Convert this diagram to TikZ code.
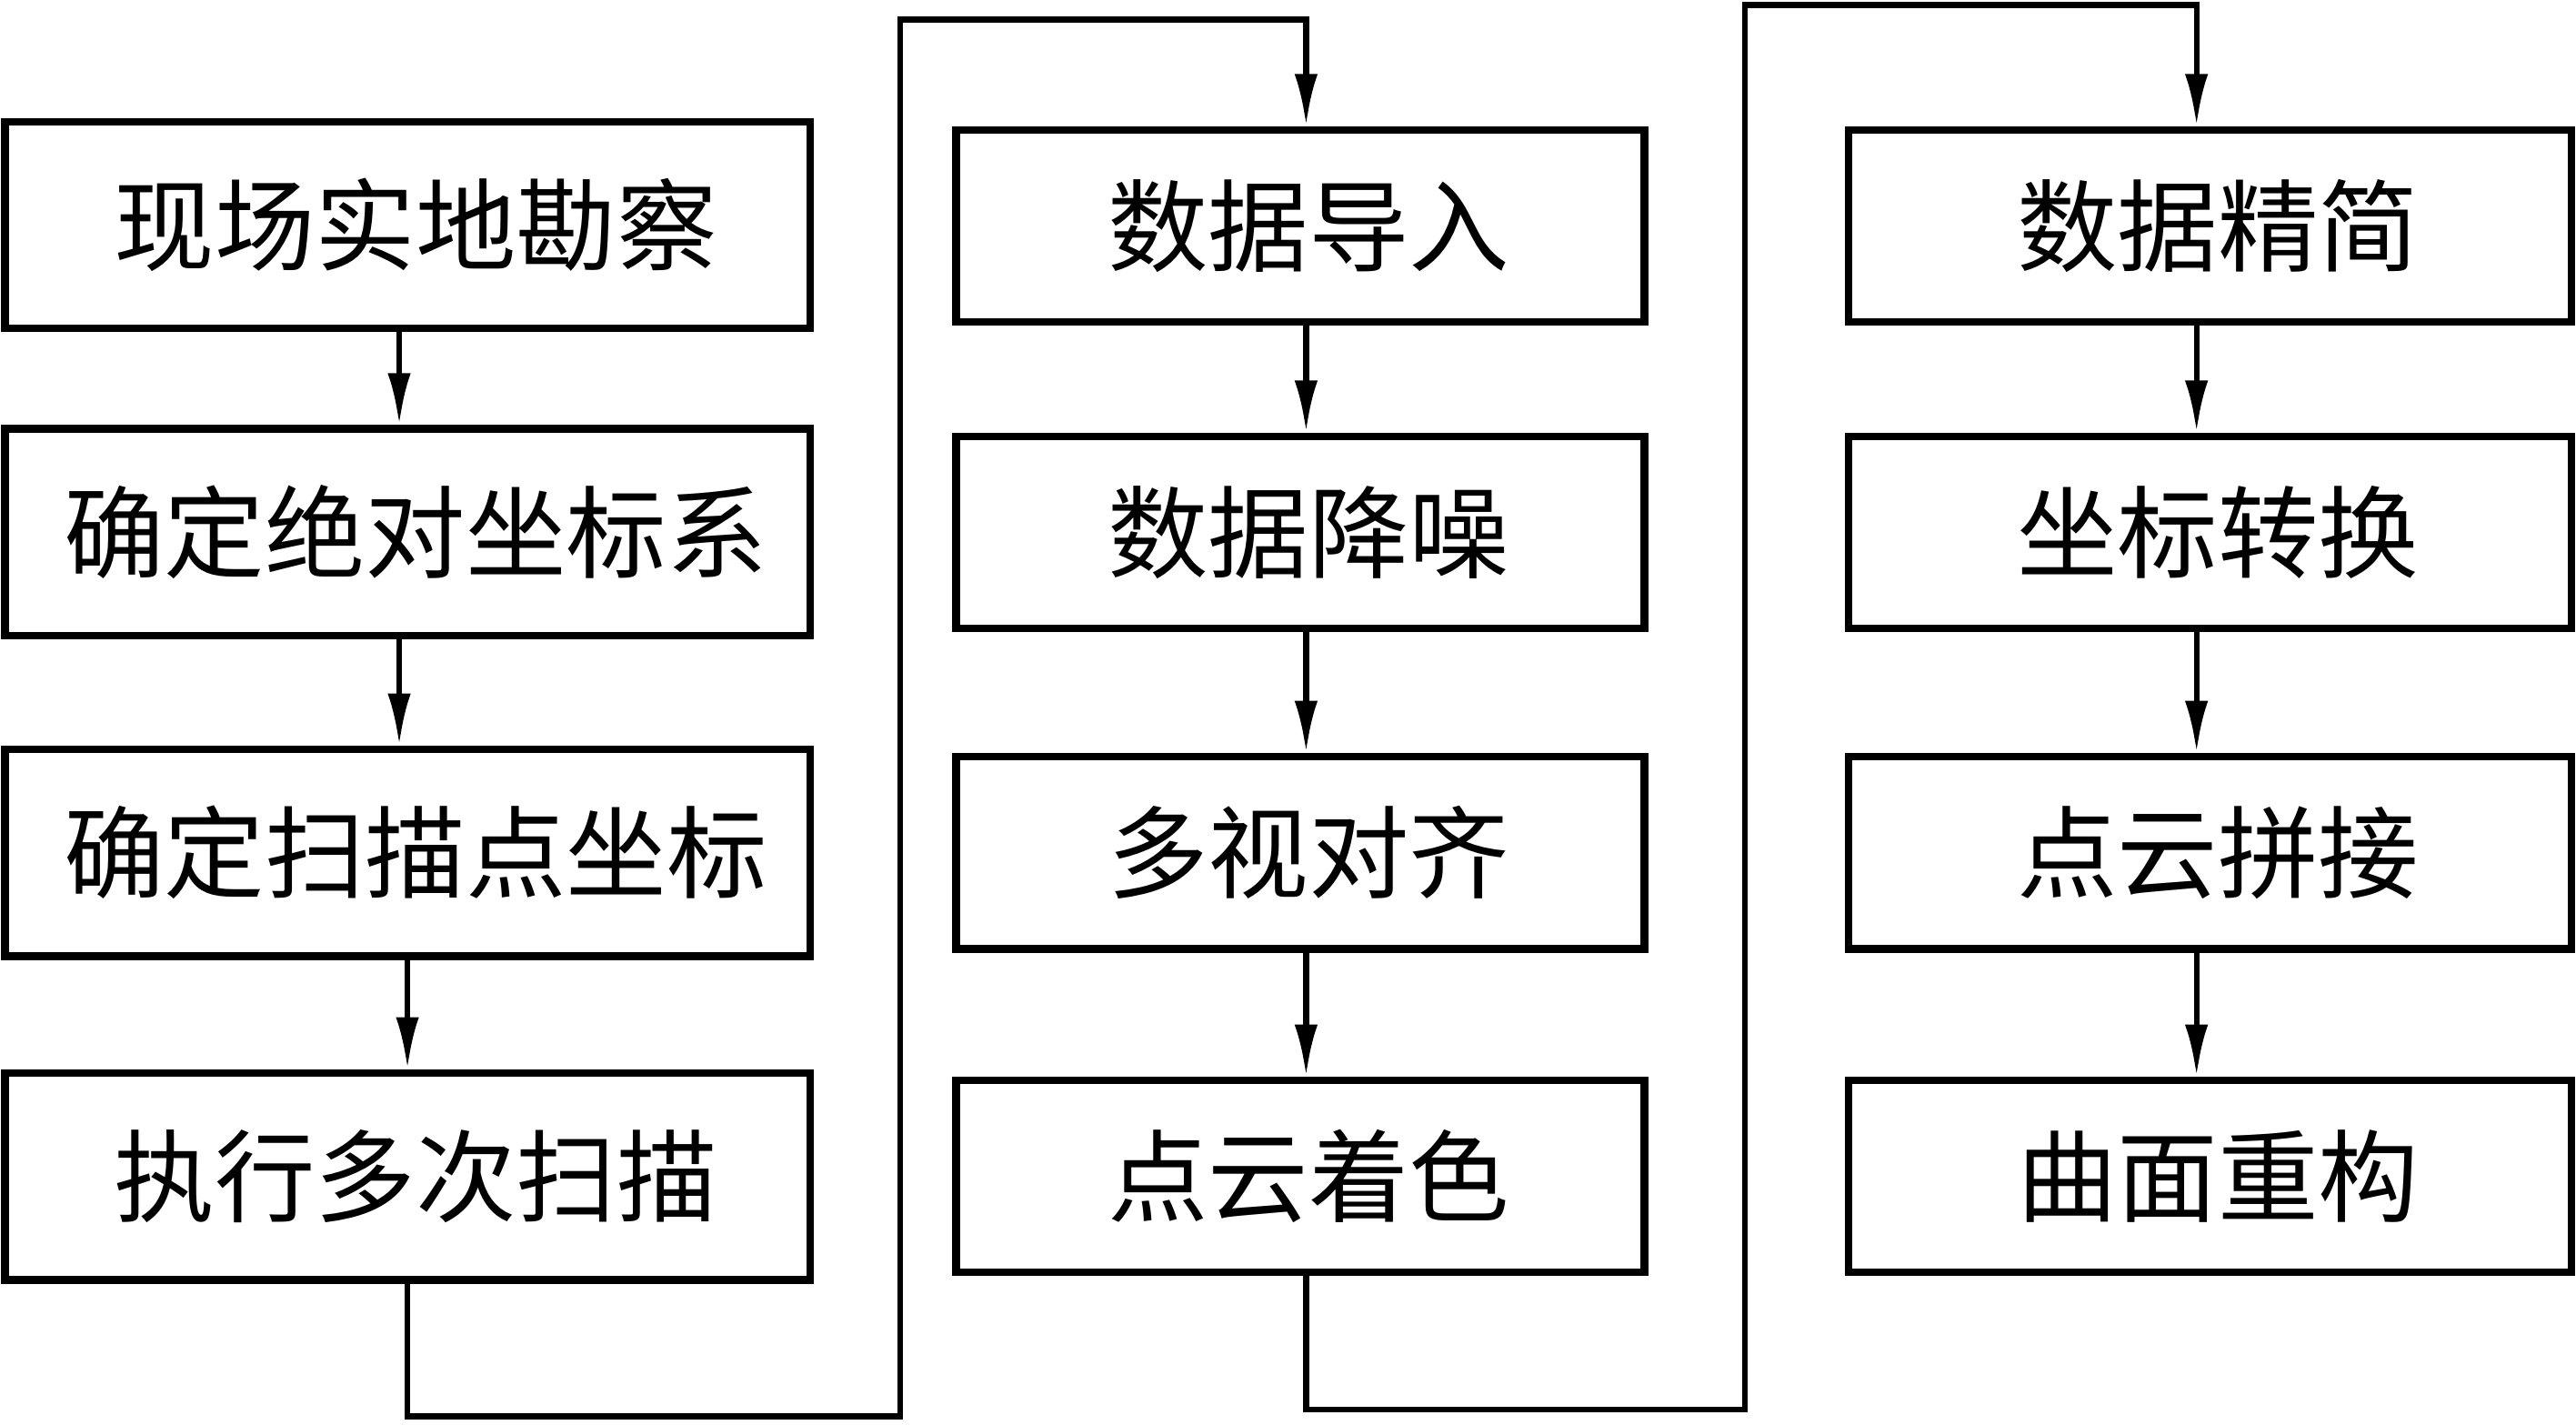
\documentclass[tikz,border=0pt]{standalone}
\usepackage{fontspec}
\newfontfamily\cjk{Noto Sans CJK SC}
\usetikzlibrary{calc}
\usetikzlibrary{positioning}
\usetikzlibrary{arrows.meta}
\tikzset{every picture/.style={/utils/exec={\cjk}}}
\tikzset{
  stepbox/.style={draw, line width=1.3pt, minimum height=1.17cm, inner sep=0pt, font=\fontsize{17.4}{20}\selectfont},
  flow/.style={line width=1pt, -{Latex[length=9pt,width=4pt]}}
}

\begin{document}
\begin{tikzpicture}
  \useasboundingbox (0,0) rectangle (15.68,-8.67);

  % left column
  \begin{scope}[every node/.style={stepbox, minimum width=4.9cm, minimum height=1.26cm}]
    \node (a1) at (2.48,-1.37) {\hspace{0.1cm}现场实地勘察};
    \node (a2) at (2.48,-3.24) {\hspace{0.1cm}确定绝对坐标系};
    \node (a3) at (2.48,-5.19) {\hspace{0.1cm}确定扫描点坐标};
    \node (a4) at (2.48,-7.16) {\hspace{0.1cm}执行多次扫描};
  \end{scope}

  % middle column
  \begin{scope}[every node/.style={stepbox, minimum width=4.19cm}]
    \node (b1) at (7.915,-1.375) {\hspace{0.1cm}数据导入};
    \node (b2) at (7.915,-3.24) {\hspace{0.1cm}数据降噪};
    \node (b3) at (7.915,-5.19) {\hspace{0.1cm}多视对齐};
    \node (b4) at (7.915,-7.16) {\hspace{0.1cm}点云着色};
  \end{scope}

  % right column
  \begin{scope}[every node/.style={stepbox, minimum width=4.4cm}]
    \node (c1) at (13.45,-1.375) {\hspace{0.1cm}数据精简};
    \node (c2) at (13.45,-3.24) {\hspace{0.1cm}坐标转换};
    \node (c3) at (13.45,-5.19) {\hspace{0.1cm}点云拼接};
    \node (c4) at (13.45,-7.16) {\hspace{0.1cm}曲面重构};
  \end{scope}

  \draw [flow] ([xshift=-0.05cm]a1.south) -- ([xshift=-0.05cm]a2.north);
  \draw [flow] ([xshift=-0.05cm]a2.south) -- ([xshift=-0.05cm]a3.north);
  \draw [flow] (a3) -- (a4);
  \draw [flow] ([xshift=0.035cm]b1.south) -- ([xshift=0.035cm]b2.north);
  \draw [flow] ([xshift=0.035cm]b2.south) -- ([xshift=0.035cm]b3.north);
  \draw [flow] ([xshift=0.035cm]b3.south) -- ([xshift=0.035cm]b4.north);
  \draw [flow] ([xshift=-0.08cm]c1.south) -- ([xshift=-0.08cm]c2.north);
  \draw [flow] ([xshift=-0.08cm]c2.south) -- ([xshift=-0.08cm]c3.north);
  \draw [flow] ([xshift=-0.08cm]c3.south) -- ([xshift=-0.08cm]c4.north);

  % links between columns
  \coordinate (low1) at (5.48,-8.62);
  \coordinate (top1) at (5.48,-0.12);
  \coordinate (low2) at (10.62,-8.58);
  \coordinate (top2) at (10.62,-0.03);
  \draw [flow] (a4.south) |- (low1) -- (top1) -| ([xshift=0.035cm]b1.north);
  \draw [flow] ([xshift=0.035cm]b4.south) |- (low2) -- (top2) -| ([xshift=-0.08cm]c1.north);

\end{tikzpicture}
\end{document}
